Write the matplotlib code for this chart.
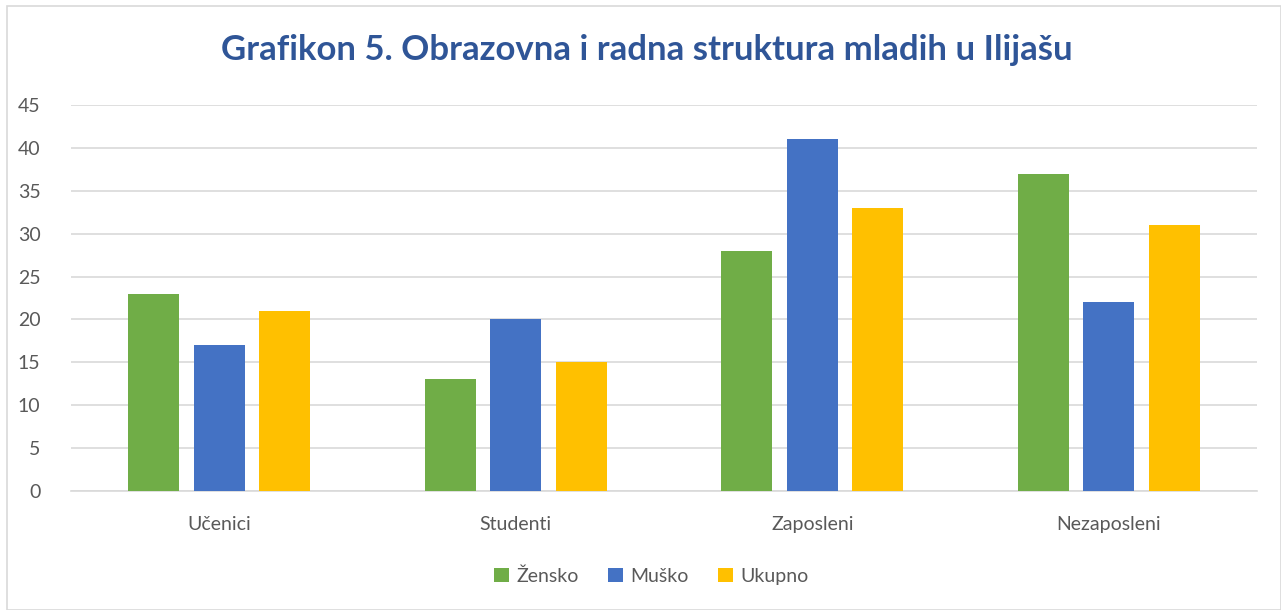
import numpy as np
import matplotlib
matplotlib.use("Agg")
import matplotlib.pyplot as plt
from matplotlib.patches import Rectangle

plt.rcParams['font.family'] = ['Lato', 'DejaVu Sans']

categories = ["Učenici", "Studenti", "Zaposleni", "Nezaposleni"]
zensko = [23, 13, 28, 37]
musko = [17, 20, 41, 22]
ukupno = [21, 15, 33, 31]
series_names = ["Žensko", "Muško", "Ukupno"]
colors = ["#70AD47", "#4472C4", "#FFC000"]

fig = plt.figure(figsize=(12.81, 6.10), dpi=100)
# light outer frame like the Excel chart area
fig.patches.append(Rectangle((7/1281, 0), 1 - 7/1281, 1 - 6/610, transform=fig.transFigure,
                             fill=False, edgecolor="#D9D9D9", linewidth=1.2))

ax = fig.add_axes([71/1281, 119/610, 1186/1281, 386/610])
x = np.arange(len(categories))
w = 0.172
step = 0.221
for i, (vals, name) in enumerate(zip([zensko, musko, ukupno], series_names)):
    ax.bar(x + (i - 1) * step, vals, width=w, color=colors[i], label=name, zorder=3)

ax.set_xlim(-0.5, len(categories) - 0.5)
ax.set_ylim(0, 45)
ax.set_yticks(range(0, 46, 5))
ax.set_xticks(x)
ax.set_xticklabels(categories)
ax.yaxis.grid(True, color="#D9D9D9", linewidth=1.2, zorder=0)
for s in ["top", "right", "left"]:
    ax.spines[s].set_visible(False)
ax.spines["bottom"].set_color("#D9D9D9")
ax.spines["bottom"].set_linewidth(1.2)
ax.tick_params(axis="both", length=0, labelsize=14, colors="#595959")
ax.tick_params(axis="x", pad=18)
ax.tick_params(axis="y", pad=22)

fig.text(0.5 + 6/1281, 1 - 50/610, "Grafikon 5. Obrazovna i radna struktura mladih u Ilijašu",
         ha="center", va="center", fontsize=25, fontweight="bold", color="#2F5597")

fig.legend(loc="center", bbox_to_anchor=(651/1281, 1 - 576/610), ncol=3, frameon=False,
           fontsize=14, handlelength=0.8, handleheight=0.8, handletextpad=0.35,
           columnspacing=1.5, labelcolor="#595959")

fig.savefig("out.png", dpi=100)
